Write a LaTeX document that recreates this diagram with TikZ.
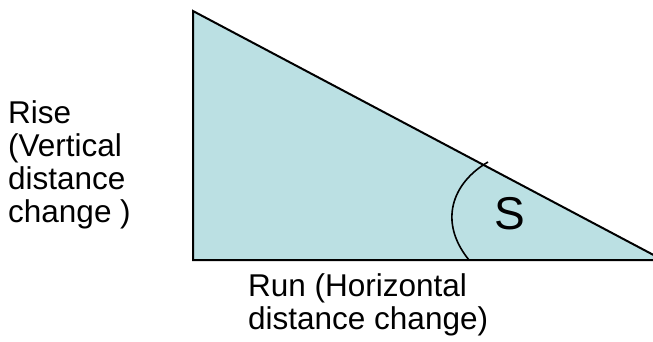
\documentclass[tikz,border=0pt]{standalone}
\usepackage{fontspec}
\setmainfont{Liberation Sans}
\definecolor{trifill}{RGB}{187,224,227}
\begin{document}
\begin{tikzpicture}[x=1pt,y=-1pt,
  edge/.style={draw=black,line width=2pt,line join=miter},
  arcline/.style={draw=black,line width=1.6pt},
  lbl/.style={inner sep=0pt,align=left,font=\fontsize{31.5}{33}\selectfont},
  big/.style={inner sep=0pt,font=\fontsize{46}{50}\selectfont}]
\useasboundingbox (0,0) rectangle (653,341);
\clip (0,0) rectangle (653,341);
\coordinate (A) at (193,11);
\coordinate (B) at (193,260);
\coordinate (C) at (663,260);
\fill[trifill] (A) -- (B) -- (C) -- cycle;
\draw[edge] (A) -- (B) -- (C) -- cycle;
\coordinate (arcstart) at (488,162);
\coordinate (arcend) at (469,260);
\draw[arcline] (arcstart) .. controls (452,183) and (438,222) .. (arcend);
\node[big] (s) at (509.5,214) {S};
\node[lbl,anchor=base west] (rise) at (8,222) {Rise\\(Vertical\\distance\\change )};
\node[lbl,anchor=base west] (run) at (248,329) {Run (Horizontal\\distance change)};
\end{tikzpicture}
\end{document}
